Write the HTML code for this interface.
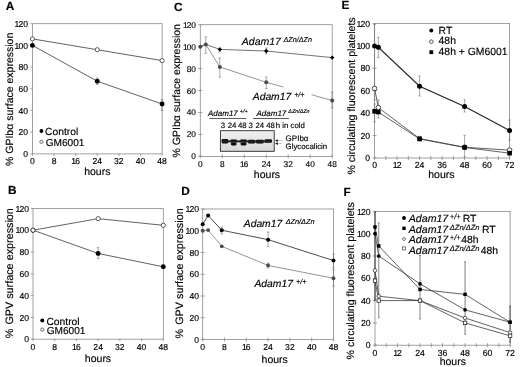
<!DOCTYPE html>
<html><head><meta charset="utf-8"><title>Figure</title>
<style>html,body{margin:0;padding:0;background:#fff;}svg{display:block;will-change:transform;}text{stroke:#000;stroke-width:0.15px;}</style></head><body>
<svg width="520" height="367" viewBox="0 0 520 367" font-family="Liberation Sans, Arial, sans-serif" text-rendering="geometricPrecision">
<rect width="520" height="367" fill="#fff"/>
<defs><filter id="bl" x="-20%" y="-50%" width="140%" height="200%"><feGaussianBlur stdDeviation="0.7"/></filter></defs>
<rect x="32.40" y="23.70" width="129.70" height="130.20" fill="none" stroke="#8a8a8a" stroke-width="0.8"/>
<line x1="30.30" y1="153.90" x2="32.80" y2="153.90" stroke="#8a8a8a" stroke-width="0.8" />
<text x="28.00" y="157.00" font-size="8.6" text-anchor="end" font-weight="normal" font-style="normal" fill="#000" >0</text>
<line x1="30.30" y1="132.20" x2="32.80" y2="132.20" stroke="#8a8a8a" stroke-width="0.8" />
<text x="28.00" y="135.30" font-size="8.6" text-anchor="end" font-weight="normal" font-style="normal" fill="#000" >20</text>
<line x1="30.30" y1="110.50" x2="32.80" y2="110.50" stroke="#8a8a8a" stroke-width="0.8" />
<text x="28.00" y="113.60" font-size="8.6" text-anchor="end" font-weight="normal" font-style="normal" fill="#000" >40</text>
<line x1="30.30" y1="88.80" x2="32.80" y2="88.80" stroke="#8a8a8a" stroke-width="0.8" />
<text x="28.00" y="91.90" font-size="8.6" text-anchor="end" font-weight="normal" font-style="normal" fill="#000" >60</text>
<line x1="30.30" y1="67.10" x2="32.80" y2="67.10" stroke="#8a8a8a" stroke-width="0.8" />
<text x="28.00" y="70.20" font-size="8.6" text-anchor="end" font-weight="normal" font-style="normal" fill="#000" >80</text>
<line x1="30.30" y1="45.40" x2="32.80" y2="45.40" stroke="#8a8a8a" stroke-width="0.8" />
<text x="28.00" y="48.50" font-size="8.6" text-anchor="end" font-weight="normal" font-style="normal" fill="#000" ><tspan letter-spacing="-0.9">1</tspan>00</text>
<line x1="30.30" y1="23.70" x2="32.80" y2="23.70" stroke="#8a8a8a" stroke-width="0.8" />
<text x="28.00" y="26.80" font-size="8.6" text-anchor="end" font-weight="normal" font-style="normal" fill="#000" ><tspan letter-spacing="-0.9">1</tspan>20</text>
<line x1="32.40" y1="153.50" x2="32.40" y2="155.90" stroke="#8a8a8a" stroke-width="0.8" />
<text x="32.40" y="164.20" font-size="8.6" text-anchor="middle" font-weight="normal" font-style="normal" fill="#000" >0</text>
<line x1="54.02" y1="153.50" x2="54.02" y2="155.90" stroke="#8a8a8a" stroke-width="0.8" />
<text x="54.02" y="164.20" font-size="8.6" text-anchor="middle" font-weight="normal" font-style="normal" fill="#000" >8</text>
<line x1="75.63" y1="153.50" x2="75.63" y2="155.90" stroke="#8a8a8a" stroke-width="0.8" />
<text x="75.63" y="164.20" font-size="8.6" text-anchor="middle" font-weight="normal" font-style="normal" fill="#000" ><tspan letter-spacing="-0.9">1</tspan>6</text>
<line x1="97.25" y1="153.50" x2="97.25" y2="155.90" stroke="#8a8a8a" stroke-width="0.8" />
<text x="97.25" y="164.20" font-size="8.6" text-anchor="middle" font-weight="normal" font-style="normal" fill="#000" >24</text>
<line x1="118.87" y1="153.50" x2="118.87" y2="155.90" stroke="#8a8a8a" stroke-width="0.8" />
<text x="118.87" y="164.20" font-size="8.6" text-anchor="middle" font-weight="normal" font-style="normal" fill="#000" >32</text>
<line x1="140.48" y1="153.50" x2="140.48" y2="155.90" stroke="#8a8a8a" stroke-width="0.8" />
<text x="140.48" y="164.20" font-size="8.6" text-anchor="middle" font-weight="normal" font-style="normal" fill="#000" >40</text>
<line x1="162.10" y1="153.50" x2="162.10" y2="155.90" stroke="#8a8a8a" stroke-width="0.8" />
<text x="162.10" y="164.20" font-size="8.6" text-anchor="middle" font-weight="normal" font-style="normal" fill="#000" >48</text>
<text x="5.80" y="9.90" font-size="11.8" text-anchor="start" font-weight="bold" font-style="normal" fill="#000" >A</text>
<text transform="translate(13.00,166.00) rotate(-90)" font-size="10.5" fill="#000">% GPIbα surface expression</text>
<text x="97.30" y="175.20" font-size="10.5" text-anchor="middle" font-weight="normal" font-style="normal" fill="#000" >hours</text>
<line x1="97.25" y1="77.95" x2="97.25" y2="84.46" stroke="#6e6e6e" stroke-width="0.6" />
<line x1="95.95" y1="77.95" x2="98.55" y2="77.95" stroke="#6e6e6e" stroke-width="0.54" />
<line x1="95.95" y1="84.46" x2="98.55" y2="84.46" stroke="#6e6e6e" stroke-width="0.54" />
<line x1="162.10" y1="99.65" x2="162.10" y2="110.50" stroke="#6e6e6e" stroke-width="0.6" />
<line x1="160.80" y1="99.65" x2="163.40" y2="99.65" stroke="#6e6e6e" stroke-width="0.54" />
<line x1="160.80" y1="110.50" x2="163.40" y2="110.50" stroke="#6e6e6e" stroke-width="0.54" />
<polyline fill="none" stroke="#3a3a3a" stroke-width="0.8" points="32.40,45.40 97.25,81.20 162.10,103.99"/>
<polyline fill="none" stroke="#3a3a3a" stroke-width="0.8" points="32.40,38.89 97.25,49.74 162.10,60.59"/>
<circle cx="32.40" cy="45.40" r="2.45" fill="#000" stroke="none" stroke-width="0.7"/>
<circle cx="97.25" cy="81.20" r="2.45" fill="#000" stroke="none" stroke-width="0.7"/>
<circle cx="162.10" cy="103.99" r="2.45" fill="#000" stroke="none" stroke-width="0.7"/>
<circle cx="32.40" cy="38.89" r="2.1" fill="#fff" stroke="#333" stroke-width="0.8"/>
<circle cx="97.25" cy="49.74" r="2.1" fill="#fff" stroke="#333" stroke-width="0.8"/>
<circle cx="162.10" cy="60.59" r="2.1" fill="#fff" stroke="#333" stroke-width="0.8"/>
<circle cx="41.40" cy="131.00" r="1.9" fill="#000" stroke="none" stroke-width="0.7"/>
<text x="45.00" y="134.50" font-size="10.3" text-anchor="start" font-weight="normal" font-style="normal" fill="#000" >Control</text>
<circle cx="41.40" cy="141.80" r="1.6" fill="#fff" stroke="#444" stroke-width="0.8"/>
<text x="45.70" y="145.60" font-size="10.1" text-anchor="start" font-weight="normal" font-style="normal" fill="#000" >GM6001</text>
<rect x="33.00" y="208.40" width="130.30" height="130.80" fill="none" stroke="#8a8a8a" stroke-width="0.8"/>
<line x1="30.90" y1="339.20" x2="33.40" y2="339.20" stroke="#8a8a8a" stroke-width="0.8" />
<text x="29.00" y="342.30" font-size="8.6" text-anchor="end" font-weight="normal" font-style="normal" fill="#000" >0</text>
<line x1="30.90" y1="317.40" x2="33.40" y2="317.40" stroke="#8a8a8a" stroke-width="0.8" />
<text x="29.00" y="320.50" font-size="8.6" text-anchor="end" font-weight="normal" font-style="normal" fill="#000" >20</text>
<line x1="30.90" y1="295.60" x2="33.40" y2="295.60" stroke="#8a8a8a" stroke-width="0.8" />
<text x="29.00" y="298.70" font-size="8.6" text-anchor="end" font-weight="normal" font-style="normal" fill="#000" >40</text>
<line x1="30.90" y1="273.80" x2="33.40" y2="273.80" stroke="#8a8a8a" stroke-width="0.8" />
<text x="29.00" y="276.90" font-size="8.6" text-anchor="end" font-weight="normal" font-style="normal" fill="#000" >60</text>
<line x1="30.90" y1="252.00" x2="33.40" y2="252.00" stroke="#8a8a8a" stroke-width="0.8" />
<text x="29.00" y="255.10" font-size="8.6" text-anchor="end" font-weight="normal" font-style="normal" fill="#000" >80</text>
<line x1="30.90" y1="230.20" x2="33.40" y2="230.20" stroke="#8a8a8a" stroke-width="0.8" />
<text x="29.00" y="233.30" font-size="8.6" text-anchor="end" font-weight="normal" font-style="normal" fill="#000" ><tspan letter-spacing="-0.9">1</tspan>00</text>
<line x1="30.90" y1="208.40" x2="33.40" y2="208.40" stroke="#8a8a8a" stroke-width="0.8" />
<text x="29.00" y="211.50" font-size="8.6" text-anchor="end" font-weight="normal" font-style="normal" fill="#000" ><tspan letter-spacing="-0.9">1</tspan>20</text>
<line x1="33.00" y1="338.80" x2="33.00" y2="341.20" stroke="#8a8a8a" stroke-width="0.8" />
<text x="33.00" y="350.00" font-size="8.6" text-anchor="middle" font-weight="normal" font-style="normal" fill="#000" >0</text>
<line x1="54.72" y1="338.80" x2="54.72" y2="341.20" stroke="#8a8a8a" stroke-width="0.8" />
<text x="54.72" y="350.00" font-size="8.6" text-anchor="middle" font-weight="normal" font-style="normal" fill="#000" >8</text>
<line x1="76.43" y1="338.80" x2="76.43" y2="341.20" stroke="#8a8a8a" stroke-width="0.8" />
<text x="76.43" y="350.00" font-size="8.6" text-anchor="middle" font-weight="normal" font-style="normal" fill="#000" ><tspan letter-spacing="-0.9">1</tspan>6</text>
<line x1="98.15" y1="338.80" x2="98.15" y2="341.20" stroke="#8a8a8a" stroke-width="0.8" />
<text x="98.15" y="350.00" font-size="8.6" text-anchor="middle" font-weight="normal" font-style="normal" fill="#000" >24</text>
<line x1="119.87" y1="338.80" x2="119.87" y2="341.20" stroke="#8a8a8a" stroke-width="0.8" />
<text x="119.87" y="350.00" font-size="8.6" text-anchor="middle" font-weight="normal" font-style="normal" fill="#000" >32</text>
<line x1="141.58" y1="338.80" x2="141.58" y2="341.20" stroke="#8a8a8a" stroke-width="0.8" />
<text x="141.58" y="350.00" font-size="8.6" text-anchor="middle" font-weight="normal" font-style="normal" fill="#000" >40</text>
<line x1="163.30" y1="338.80" x2="163.30" y2="341.20" stroke="#8a8a8a" stroke-width="0.8" />
<text x="163.30" y="350.00" font-size="8.6" text-anchor="middle" font-weight="normal" font-style="normal" fill="#000" >48</text>
<text x="7.90" y="194.30" font-size="11.8" text-anchor="start" font-weight="bold" font-style="normal" fill="#000" >B</text>
<text transform="translate(13.30,338.20) rotate(-90)" font-size="10.8" fill="#000">% <tspan dx="1.0">GPV</tspan> surface expression</text>
<text x="98.00" y="362.00" font-size="10.5" text-anchor="middle" font-weight="normal" font-style="normal" fill="#000" >hours</text>
<line x1="98.15" y1="247.64" x2="98.15" y2="258.54" stroke="#6e6e6e" stroke-width="0.6" />
<line x1="96.85" y1="247.64" x2="99.45" y2="247.64" stroke="#6e6e6e" stroke-width="0.54" />
<line x1="96.85" y1="258.54" x2="99.45" y2="258.54" stroke="#6e6e6e" stroke-width="0.54" />
<polyline fill="none" stroke="#3a3a3a" stroke-width="0.8" points="33.00,230.20 98.15,253.42 163.30,266.82"/>
<polyline fill="none" stroke="#3a3a3a" stroke-width="0.8" points="33.00,230.20 98.15,218.65 163.30,225.30"/>
<circle cx="33.00" cy="230.20" r="2.45" fill="#000" stroke="none" stroke-width="0.7"/>
<circle cx="98.15" cy="253.42" r="2.45" fill="#000" stroke="none" stroke-width="0.7"/>
<circle cx="163.30" cy="266.82" r="2.45" fill="#000" stroke="none" stroke-width="0.7"/>
<circle cx="33.00" cy="230.20" r="2.1" fill="#fff" stroke="#333" stroke-width="0.8"/>
<circle cx="98.15" cy="218.65" r="2.1" fill="#fff" stroke="#333" stroke-width="0.8"/>
<circle cx="163.30" cy="225.30" r="2.1" fill="#fff" stroke="#333" stroke-width="0.8"/>
<circle cx="42.30" cy="320.60" r="2.0" fill="#000" stroke="none" stroke-width="0.7"/>
<text x="46.40" y="324.50" font-size="10.3" text-anchor="start" font-weight="normal" font-style="normal" fill="#000" >Control</text>
<circle cx="42.30" cy="329.60" r="1.6" fill="#fff" stroke="#444" stroke-width="0.8"/>
<text x="46.70" y="333.80" font-size="10.1" text-anchor="start" font-weight="normal" font-style="normal" fill="#000" >GM6001</text>
<rect x="200.30" y="24.70" width="131.90" height="131.70" fill="none" stroke="#8a8a8a" stroke-width="0.8"/>
<line x1="198.20" y1="156.40" x2="202.30" y2="156.40" stroke="#8a8a8a" stroke-width="0.8" />
<text x="195.90" y="159.39" font-size="8.3" text-anchor="end" font-weight="normal" font-style="normal" fill="#000" >0</text>
<line x1="198.20" y1="134.45" x2="202.30" y2="134.45" stroke="#8a8a8a" stroke-width="0.8" />
<text x="195.90" y="137.44" font-size="8.3" text-anchor="end" font-weight="normal" font-style="normal" fill="#000" >20</text>
<line x1="198.20" y1="112.50" x2="202.30" y2="112.50" stroke="#8a8a8a" stroke-width="0.8" />
<text x="195.90" y="115.49" font-size="8.3" text-anchor="end" font-weight="normal" font-style="normal" fill="#000" >40</text>
<line x1="198.20" y1="90.55" x2="202.30" y2="90.55" stroke="#8a8a8a" stroke-width="0.8" />
<text x="195.90" y="93.54" font-size="8.3" text-anchor="end" font-weight="normal" font-style="normal" fill="#000" >60</text>
<line x1="198.20" y1="68.60" x2="202.30" y2="68.60" stroke="#8a8a8a" stroke-width="0.8" />
<text x="195.90" y="71.59" font-size="8.3" text-anchor="end" font-weight="normal" font-style="normal" fill="#000" >80</text>
<line x1="198.20" y1="46.65" x2="202.30" y2="46.65" stroke="#8a8a8a" stroke-width="0.8" />
<text x="195.90" y="49.64" font-size="8.3" text-anchor="end" font-weight="normal" font-style="normal" fill="#000" ><tspan letter-spacing="-0.9">1</tspan>00</text>
<line x1="198.20" y1="24.70" x2="202.30" y2="24.70" stroke="#8a8a8a" stroke-width="0.8" />
<text x="195.90" y="27.69" font-size="8.3" text-anchor="end" font-weight="normal" font-style="normal" fill="#000" ><tspan letter-spacing="-0.9">1</tspan>20</text>
<line x1="200.30" y1="154.40" x2="200.30" y2="158.40" stroke="#8a8a8a" stroke-width="0.8" />
<text x="200.30" y="166.50" font-size="8.3" text-anchor="middle" font-weight="normal" font-style="normal" fill="#000" >0</text>
<line x1="222.28" y1="154.40" x2="222.28" y2="158.40" stroke="#8a8a8a" stroke-width="0.8" />
<text x="222.28" y="166.50" font-size="8.3" text-anchor="middle" font-weight="normal" font-style="normal" fill="#000" >8</text>
<line x1="244.27" y1="154.40" x2="244.27" y2="158.40" stroke="#8a8a8a" stroke-width="0.8" />
<text x="244.27" y="166.50" font-size="8.3" text-anchor="middle" font-weight="normal" font-style="normal" fill="#000" ><tspan letter-spacing="-0.9">1</tspan>6</text>
<line x1="266.25" y1="154.40" x2="266.25" y2="158.40" stroke="#8a8a8a" stroke-width="0.8" />
<text x="266.25" y="166.50" font-size="8.3" text-anchor="middle" font-weight="normal" font-style="normal" fill="#000" >24</text>
<line x1="288.23" y1="154.40" x2="288.23" y2="158.40" stroke="#8a8a8a" stroke-width="0.8" />
<text x="288.23" y="166.50" font-size="8.3" text-anchor="middle" font-weight="normal" font-style="normal" fill="#000" >32</text>
<line x1="310.22" y1="154.40" x2="310.22" y2="158.40" stroke="#8a8a8a" stroke-width="0.8" />
<text x="310.22" y="166.50" font-size="8.3" text-anchor="middle" font-weight="normal" font-style="normal" fill="#000" >40</text>
<line x1="332.20" y1="154.40" x2="332.20" y2="158.40" stroke="#8a8a8a" stroke-width="0.8" />
<text x="332.20" y="166.50" font-size="8.3" text-anchor="middle" font-weight="normal" font-style="normal" fill="#000" >48</text>
<text x="174.00" y="10.80" font-size="11.8" text-anchor="start" font-weight="bold" font-style="normal" fill="#000" >C</text>
<text transform="translate(179.80,157.40) rotate(-90)" font-size="10.5" fill="#000">% GPIbα surface expression</text>
<text x="267.00" y="177.50" font-size="10.5" text-anchor="middle" font-weight="normal" font-style="normal" fill="#000" >hours</text>
<line x1="205.80" y1="36.80" x2="205.80" y2="53.40" stroke="#6e6e6e" stroke-width="0.6" />
<line x1="204.50" y1="36.80" x2="207.10" y2="36.80" stroke="#6e6e6e" stroke-width="0.54" />
<line x1="204.50" y1="53.40" x2="207.10" y2="53.40" stroke="#6e6e6e" stroke-width="0.54" />
<line x1="219.81" y1="58.00" x2="219.81" y2="77.20" stroke="#6e6e6e" stroke-width="0.6" />
<line x1="218.51" y1="58.00" x2="221.11" y2="58.00" stroke="#6e6e6e" stroke-width="0.54" />
<line x1="218.51" y1="77.20" x2="221.11" y2="77.20" stroke="#6e6e6e" stroke-width="0.54" />
<line x1="266.25" y1="77.00" x2="266.25" y2="88.50" stroke="#6e6e6e" stroke-width="0.6" />
<line x1="264.95" y1="77.00" x2="267.55" y2="77.00" stroke="#6e6e6e" stroke-width="0.54" />
<line x1="264.95" y1="88.50" x2="267.55" y2="88.50" stroke="#6e6e6e" stroke-width="0.54" />
<line x1="266.25" y1="48.00" x2="266.25" y2="54.00" stroke="#6e6e6e" stroke-width="0.6" />
<line x1="264.95" y1="48.00" x2="267.55" y2="48.00" stroke="#6e6e6e" stroke-width="0.54" />
<line x1="264.95" y1="54.00" x2="267.55" y2="54.00" stroke="#6e6e6e" stroke-width="0.54" />
<line x1="332.20" y1="92.00" x2="332.20" y2="108.00" stroke="#6e6e6e" stroke-width="0.6" />
<line x1="330.90" y1="92.00" x2="333.50" y2="92.00" stroke="#6e6e6e" stroke-width="0.54" />
<line x1="330.90" y1="108.00" x2="333.50" y2="108.00" stroke="#6e6e6e" stroke-width="0.54" />
<line x1="219.81" y1="48.00" x2="219.81" y2="52.00" stroke="#6e6e6e" stroke-width="0.6" />
<line x1="218.51" y1="48.00" x2="221.11" y2="48.00" stroke="#6e6e6e" stroke-width="0.54" />
<line x1="218.51" y1="52.00" x2="221.11" y2="52.00" stroke="#6e6e6e" stroke-width="0.54" />
<polyline fill="none" stroke="#7a7a7a" stroke-width="0.8" points="200.30,46.65 205.80,44.45 219.81,66.95 266.25,82.32"/>
<polyline fill="none" stroke="#7a7a7a" stroke-width="0.8" points="266.25,82.32 283.50,87.06"/>
<polyline fill="none" stroke="#7a7a7a" stroke-width="0.8" points="311.70,94.80 332.20,100.43"/>
<polyline fill="none" stroke="#444" stroke-width="0.75" points="200.30,46.65 205.80,44.45 219.81,49.39 266.25,51.04 332.20,57.62"/>
<circle cx="200.30" cy="46.65" r="2.0" fill="#4a4a4a" stroke="none" stroke-width="0.7"/>
<circle cx="205.80" cy="44.45" r="2.0" fill="#4a4a4a" stroke="none" stroke-width="0.7"/>
<circle cx="219.81" cy="66.95" r="2.0" fill="#4a4a4a" stroke="none" stroke-width="0.7"/>
<circle cx="266.25" cy="82.32" r="2.0" fill="#4a4a4a" stroke="none" stroke-width="0.7"/>
<circle cx="332.20" cy="100.43" r="2.0" fill="#4a4a4a" stroke="none" stroke-width="0.7"/>
<polygon points="219.81,47.19 222.01,49.39 219.81,51.59 217.61,49.39" fill="#000"/>
<polygon points="266.25,48.84 268.45,51.04 266.25,53.24 264.05,51.04" fill="#000"/>
<polygon points="332.20,55.42 334.40,57.62 332.20,59.82 330.00,57.62" fill="#000"/>
<text x="241.8" y="44.6" font-size="10.5" font-style="italic" fill="#000">Adam17<tspan dx="2.6" dy="-2.2" font-size="7.2">ΔZn/ΔZn</tspan></text>
<text x="252.8" y="100.3" font-size="10.3" font-style="italic" fill="#000">Adam17<tspan dx="3" dy="-3" font-size="7.2">+/+</tspan></text>
<text x="208" y="115.8" font-size="8" font-style="italic" fill="#000">Adam17<tspan dx="2" dy="-2.4" font-size="5.4">+/+</tspan></text>
<text x="256.5" y="115.8" font-size="8" font-style="italic" fill="#000">Adam17<tspan dx="2" dy="-2.4" font-size="5.4">ΔZn/ΔZn</tspan></text>
<line x1="209.40" y1="118.50" x2="246.30" y2="118.50" stroke="#333" stroke-width="0.8" />
<line x1="253.00" y1="118.50" x2="288.90" y2="118.50" stroke="#333" stroke-width="0.8" />
<text x="222.90" y="127.90" font-size="7.8" text-anchor="middle" font-weight="normal" font-style="normal" fill="#000" >3</text>
<text x="232.00" y="127.90" font-size="7.8" text-anchor="middle" font-weight="normal" font-style="normal" fill="#000" >24</text>
<text x="242.30" y="127.90" font-size="7.8" text-anchor="middle" font-weight="normal" font-style="normal" fill="#000" >48</text>
<text x="250.60" y="127.90" font-size="7.8" text-anchor="middle" font-weight="normal" font-style="normal" fill="#000" >3</text>
<text x="259.80" y="127.90" font-size="7.8" text-anchor="middle" font-weight="normal" font-style="normal" fill="#000" >24</text>
<text x="270.60" y="127.90" font-size="7.8" text-anchor="middle" font-weight="normal" font-style="normal" fill="#000" >48</text>
<text x="275.80" y="127.90" font-size="7.8" text-anchor="start" font-weight="normal" font-style="normal" fill="#000" >h in cold</text>
<defs><linearGradient id="bg" x1="0" y1="0" x2="0" y2="1"><stop offset="0" stop-color="#f0f0f0"/><stop offset="1" stop-color="#d9d9d9"/></linearGradient></defs>
<rect x="220.4" y="130.7" width="53.8" height="20.6" fill="url(#bg)" stroke="#2a2a2a" stroke-width="0.9"/>
<g filter="url(#bl)">
<rect x="221.6" y="138.9" width="6.7" height="4.5" rx="1.3" fill="#0a0a0a"/>
<rect x="230.3" y="139.6" width="6.7" height="2.8" rx="1.3" fill="#0a0a0a"/>
<rect x="230.8" y="142.6" width="5.8" height="2.8" rx="1.3" fill="#0a0a0a"/>
<rect x="240.0" y="139.6" width="7.0" height="2.8" rx="1.3" fill="#0a0a0a"/>
<rect x="240.5" y="142.6" width="6.1" height="2.8" rx="1.3" fill="#0a0a0a"/>
<rect x="248.0" y="139.8" width="7.2" height="3.8" rx="1.3" fill="#0a0a0a"/>
<rect x="255.8" y="139.7" width="8.1" height="3.7" rx="1.3" fill="#0a0a0a"/>
<rect x="264.6" y="139.3" width="7.4" height="3.5" rx="1.3" fill="#0a0a0a"/>
<rect x="222" y="140.4" width="49.5" height="2.0" fill="#222"/>
</g>
<polygon points="275.2,140.6 277.8,139.29999999999998 277.8,141.9" fill="#000"/>
<line x1="277.60" y1="140.60" x2="282.00" y2="140.60" stroke="#999" stroke-width="0.6" />
<polygon points="275.2,143.6 277.8,142.29999999999998 277.8,144.9" fill="#000"/>
<line x1="277.60" y1="143.60" x2="282.00" y2="143.60" stroke="#999" stroke-width="0.6" />
<text x="285.60" y="140.80" font-size="8.0" text-anchor="start" font-weight="normal" font-style="normal" fill="#000" >GPIbα</text>
<text x="285.60" y="149.30" font-size="7.8" text-anchor="start" font-weight="normal" font-style="normal" fill="#000" >Glycocalicin</text>
<rect x="202.70" y="209.00" width="130.80" height="130.50" fill="none" stroke="#8a8a8a" stroke-width="0.8"/>
<line x1="200.60" y1="339.50" x2="204.70" y2="339.50" stroke="#8a8a8a" stroke-width="0.8" />
<text x="199.00" y="342.60" font-size="8.6" text-anchor="end" font-weight="normal" font-style="normal" fill="#000" >0</text>
<line x1="200.60" y1="317.75" x2="204.70" y2="317.75" stroke="#8a8a8a" stroke-width="0.8" />
<text x="199.00" y="320.85" font-size="8.6" text-anchor="end" font-weight="normal" font-style="normal" fill="#000" >20</text>
<line x1="200.60" y1="296.00" x2="204.70" y2="296.00" stroke="#8a8a8a" stroke-width="0.8" />
<text x="199.00" y="299.10" font-size="8.6" text-anchor="end" font-weight="normal" font-style="normal" fill="#000" >40</text>
<line x1="200.60" y1="274.25" x2="204.70" y2="274.25" stroke="#8a8a8a" stroke-width="0.8" />
<text x="199.00" y="277.35" font-size="8.6" text-anchor="end" font-weight="normal" font-style="normal" fill="#000" >60</text>
<line x1="200.60" y1="252.50" x2="204.70" y2="252.50" stroke="#8a8a8a" stroke-width="0.8" />
<text x="199.00" y="255.60" font-size="8.6" text-anchor="end" font-weight="normal" font-style="normal" fill="#000" >80</text>
<line x1="200.60" y1="230.75" x2="204.70" y2="230.75" stroke="#8a8a8a" stroke-width="0.8" />
<text x="199.00" y="233.85" font-size="8.6" text-anchor="end" font-weight="normal" font-style="normal" fill="#000" ><tspan letter-spacing="-0.9">1</tspan>00</text>
<line x1="200.60" y1="209.00" x2="204.70" y2="209.00" stroke="#8a8a8a" stroke-width="0.8" />
<text x="199.00" y="212.10" font-size="8.6" text-anchor="end" font-weight="normal" font-style="normal" fill="#000" ><tspan letter-spacing="-0.9">1</tspan>20</text>
<line x1="202.70" y1="337.50" x2="202.70" y2="341.50" stroke="#8a8a8a" stroke-width="0.8" />
<text x="202.70" y="349.60" font-size="8.6" text-anchor="middle" font-weight="normal" font-style="normal" fill="#000" >0</text>
<line x1="224.50" y1="337.50" x2="224.50" y2="341.50" stroke="#8a8a8a" stroke-width="0.8" />
<text x="224.50" y="349.60" font-size="8.6" text-anchor="middle" font-weight="normal" font-style="normal" fill="#000" >8</text>
<line x1="246.30" y1="337.50" x2="246.30" y2="341.50" stroke="#8a8a8a" stroke-width="0.8" />
<text x="246.30" y="349.60" font-size="8.6" text-anchor="middle" font-weight="normal" font-style="normal" fill="#000" ><tspan letter-spacing="-0.9">1</tspan>6</text>
<line x1="268.10" y1="337.50" x2="268.10" y2="341.50" stroke="#8a8a8a" stroke-width="0.8" />
<text x="268.10" y="349.60" font-size="8.6" text-anchor="middle" font-weight="normal" font-style="normal" fill="#000" >24</text>
<line x1="289.90" y1="337.50" x2="289.90" y2="341.50" stroke="#8a8a8a" stroke-width="0.8" />
<text x="289.90" y="349.60" font-size="8.6" text-anchor="middle" font-weight="normal" font-style="normal" fill="#000" >32</text>
<line x1="311.70" y1="337.50" x2="311.70" y2="341.50" stroke="#8a8a8a" stroke-width="0.8" />
<text x="311.70" y="349.60" font-size="8.6" text-anchor="middle" font-weight="normal" font-style="normal" fill="#000" >40</text>
<line x1="333.50" y1="337.50" x2="333.50" y2="341.50" stroke="#8a8a8a" stroke-width="0.8" />
<text x="333.50" y="349.60" font-size="8.6" text-anchor="middle" font-weight="normal" font-style="normal" fill="#000" >48</text>
<text x="181.30" y="195.00" font-size="11.8" text-anchor="start" font-weight="bold" font-style="normal" fill="#000" >D</text>
<text transform="translate(182.60,338.40) rotate(-90)" font-size="10.8" fill="#000">% <tspan dx="1.0">GPV</tspan> surface expression</text>
<text x="274.70" y="363.00" font-size="10.5" text-anchor="middle" font-weight="normal" font-style="normal" fill="#000" >hours</text>
<line x1="268.10" y1="232.00" x2="268.10" y2="246.70" stroke="#6e6e6e" stroke-width="0.6" />
<line x1="266.80" y1="232.00" x2="269.40" y2="232.00" stroke="#6e6e6e" stroke-width="0.54" />
<line x1="266.80" y1="246.70" x2="269.40" y2="246.70" stroke="#6e6e6e" stroke-width="0.54" />
<line x1="333.50" y1="254.00" x2="333.50" y2="268.00" stroke="#6e6e6e" stroke-width="0.6" />
<line x1="332.20" y1="254.00" x2="334.80" y2="254.00" stroke="#6e6e6e" stroke-width="0.54" />
<line x1="332.20" y1="268.00" x2="334.80" y2="268.00" stroke="#6e6e6e" stroke-width="0.54" />
<line x1="333.50" y1="270.00" x2="333.50" y2="286.00" stroke="#6e6e6e" stroke-width="0.6" />
<line x1="332.20" y1="270.00" x2="334.80" y2="270.00" stroke="#6e6e6e" stroke-width="0.54" />
<line x1="332.20" y1="286.00" x2="334.80" y2="286.00" stroke="#6e6e6e" stroke-width="0.54" />
<line x1="221.77" y1="227.00" x2="221.77" y2="234.00" stroke="#6e6e6e" stroke-width="0.6" />
<line x1="220.47" y1="227.00" x2="223.07" y2="227.00" stroke="#6e6e6e" stroke-width="0.54" />
<line x1="220.47" y1="234.00" x2="223.07" y2="234.00" stroke="#6e6e6e" stroke-width="0.54" />
<line x1="268.10" y1="263.00" x2="268.10" y2="268.00" stroke="#6e6e6e" stroke-width="0.6" />
<line x1="266.80" y1="263.00" x2="269.40" y2="263.00" stroke="#6e6e6e" stroke-width="0.54" />
<line x1="266.80" y1="268.00" x2="269.40" y2="268.00" stroke="#6e6e6e" stroke-width="0.54" />
<polyline fill="none" stroke="#7a7a7a" stroke-width="0.8" points="202.70,230.75 208.15,230.10 221.77,246.30 268.10,265.44 333.50,278.27"/>
<polyline fill="none" stroke="#3a3a3a" stroke-width="0.9" points="202.70,224.22 208.15,215.53 221.77,230.21 268.10,239.67 333.50,260.55"/>
<circle cx="202.70" cy="230.75" r="1.9" fill="#4a4a4a" stroke="none" stroke-width="0.7"/>
<circle cx="208.15" cy="230.10" r="1.9" fill="#4a4a4a" stroke="none" stroke-width="0.7"/>
<circle cx="221.77" cy="246.30" r="1.9" fill="#4a4a4a" stroke="none" stroke-width="0.7"/>
<circle cx="268.10" cy="265.44" r="1.9" fill="#4a4a4a" stroke="none" stroke-width="0.7"/>
<circle cx="333.50" cy="278.27" r="1.9" fill="#4a4a4a" stroke="none" stroke-width="0.7"/>
<circle cx="202.70" cy="224.22" r="2.0" fill="#000" stroke="none" stroke-width="0.7"/>
<circle cx="208.15" cy="215.53" r="2.0" fill="#000" stroke="none" stroke-width="0.7"/>
<circle cx="221.77" cy="230.21" r="2.0" fill="#000" stroke="none" stroke-width="0.7"/>
<circle cx="268.10" cy="239.67" r="2.0" fill="#000" stroke="none" stroke-width="0.7"/>
<circle cx="333.50" cy="260.55" r="2.0" fill="#000" stroke="none" stroke-width="0.7"/>
<text x="243.8" y="226.6" font-size="10.3" font-style="italic" fill="#000">Adam17<tspan dx="3.5" dy="-2.8" font-size="7.3">ΔZn/ΔZn</tspan></text>
<text x="254.5" y="286.7" font-size="10.3" font-style="italic" fill="#000">Adam17<tspan dx="3.2" dy="-3" font-size="7.2">+/+</tspan></text>
<rect x="374.60" y="23.50" width="135.00" height="134.50" fill="none" stroke="#8a8a8a" stroke-width="0.8"/>
<line x1="372.50" y1="158.00" x2="376.60" y2="158.00" stroke="#8a8a8a" stroke-width="0.8" />
<text x="370.20" y="161.13" font-size="8.7" text-anchor="end" font-weight="normal" font-style="normal" fill="#000" >0</text>
<line x1="372.50" y1="135.58" x2="376.60" y2="135.58" stroke="#8a8a8a" stroke-width="0.8" />
<text x="370.20" y="138.72" font-size="8.7" text-anchor="end" font-weight="normal" font-style="normal" fill="#000" >20</text>
<line x1="372.50" y1="113.17" x2="376.60" y2="113.17" stroke="#8a8a8a" stroke-width="0.8" />
<text x="370.20" y="116.30" font-size="8.7" text-anchor="end" font-weight="normal" font-style="normal" fill="#000" >40</text>
<line x1="372.50" y1="90.75" x2="376.60" y2="90.75" stroke="#8a8a8a" stroke-width="0.8" />
<text x="370.20" y="93.88" font-size="8.7" text-anchor="end" font-weight="normal" font-style="normal" fill="#000" >60</text>
<line x1="372.50" y1="68.33" x2="376.60" y2="68.33" stroke="#8a8a8a" stroke-width="0.8" />
<text x="370.20" y="71.47" font-size="8.7" text-anchor="end" font-weight="normal" font-style="normal" fill="#000" >80</text>
<line x1="372.50" y1="45.92" x2="376.60" y2="45.92" stroke="#8a8a8a" stroke-width="0.8" />
<text x="370.20" y="49.05" font-size="8.7" text-anchor="end" font-weight="normal" font-style="normal" fill="#000" ><tspan letter-spacing="-0.9">1</tspan>00</text>
<line x1="372.50" y1="23.50" x2="376.60" y2="23.50" stroke="#8a8a8a" stroke-width="0.8" />
<text x="370.20" y="26.63" font-size="8.7" text-anchor="end" font-weight="normal" font-style="normal" fill="#000" ><tspan letter-spacing="-0.9">1</tspan>20</text>
<line x1="374.60" y1="156.00" x2="374.60" y2="160.00" stroke="#8a8a8a" stroke-width="0.8" />
<text x="374.60" y="168.10" font-size="8.7" text-anchor="middle" font-weight="normal" font-style="normal" fill="#000" >0</text>
<line x1="397.10" y1="156.00" x2="397.10" y2="160.00" stroke="#8a8a8a" stroke-width="0.8" />
<text x="397.10" y="168.10" font-size="8.7" text-anchor="middle" font-weight="normal" font-style="normal" fill="#000" ><tspan letter-spacing="-0.9">1</tspan>2</text>
<line x1="419.60" y1="156.00" x2="419.60" y2="160.00" stroke="#8a8a8a" stroke-width="0.8" />
<text x="419.60" y="168.10" font-size="8.7" text-anchor="middle" font-weight="normal" font-style="normal" fill="#000" >24</text>
<line x1="442.10" y1="156.00" x2="442.10" y2="160.00" stroke="#8a8a8a" stroke-width="0.8" />
<text x="442.10" y="168.10" font-size="8.7" text-anchor="middle" font-weight="normal" font-style="normal" fill="#000" >36</text>
<line x1="464.60" y1="156.00" x2="464.60" y2="160.00" stroke="#8a8a8a" stroke-width="0.8" />
<text x="464.60" y="168.10" font-size="8.7" text-anchor="middle" font-weight="normal" font-style="normal" fill="#000" >48</text>
<line x1="487.10" y1="156.00" x2="487.10" y2="160.00" stroke="#8a8a8a" stroke-width="0.8" />
<text x="487.10" y="168.10" font-size="8.7" text-anchor="middle" font-weight="normal" font-style="normal" fill="#000" >60</text>
<line x1="509.60" y1="156.00" x2="509.60" y2="160.00" stroke="#8a8a8a" stroke-width="0.8" />
<text x="509.60" y="168.10" font-size="8.7" text-anchor="middle" font-weight="normal" font-style="normal" fill="#000" >72</text>
<line x1="385.85" y1="156.00" x2="385.85" y2="160.00" stroke="#8a8a8a" stroke-width="0.8" />
<line x1="408.35" y1="156.00" x2="408.35" y2="160.00" stroke="#8a8a8a" stroke-width="0.8" />
<line x1="430.85" y1="156.00" x2="430.85" y2="160.00" stroke="#8a8a8a" stroke-width="0.8" />
<line x1="453.35" y1="156.00" x2="453.35" y2="160.00" stroke="#8a8a8a" stroke-width="0.8" />
<line x1="475.85" y1="156.00" x2="475.85" y2="160.00" stroke="#8a8a8a" stroke-width="0.8" />
<line x1="498.35" y1="156.00" x2="498.35" y2="160.00" stroke="#8a8a8a" stroke-width="0.8" />
<text x="341.60" y="9.10" font-size="11.8" text-anchor="start" font-weight="bold" font-style="normal" fill="#000" >E</text>
<text transform="translate(355.00,174.60) rotate(-90)" font-size="10.6" fill="#000">% circulating fluorescent platelets</text>
<text x="441.40" y="177.70" font-size="10.5" text-anchor="middle" font-weight="normal" font-style="normal" fill="#000" >hours</text>
<line x1="378.35" y1="37.30" x2="378.35" y2="57.60" stroke="#6e6e6e" stroke-width="0.6" />
<line x1="377.05" y1="37.30" x2="379.65" y2="37.30" stroke="#6e6e6e" stroke-width="0.54" />
<line x1="377.05" y1="57.60" x2="379.65" y2="57.60" stroke="#6e6e6e" stroke-width="0.54" />
<line x1="419.60" y1="76.00" x2="419.60" y2="96.00" stroke="#6e6e6e" stroke-width="0.6" />
<line x1="418.30" y1="76.00" x2="420.90" y2="76.00" stroke="#6e6e6e" stroke-width="0.54" />
<line x1="418.30" y1="96.00" x2="420.90" y2="96.00" stroke="#6e6e6e" stroke-width="0.54" />
<line x1="464.60" y1="99.80" x2="464.60" y2="112.00" stroke="#6e6e6e" stroke-width="0.6" />
<line x1="463.30" y1="99.80" x2="465.90" y2="99.80" stroke="#6e6e6e" stroke-width="0.54" />
<line x1="463.30" y1="112.00" x2="465.90" y2="112.00" stroke="#6e6e6e" stroke-width="0.54" />
<line x1="509.60" y1="120.00" x2="509.60" y2="140.00" stroke="#6e6e6e" stroke-width="0.6" />
<line x1="508.30" y1="120.00" x2="510.90" y2="120.00" stroke="#6e6e6e" stroke-width="0.54" />
<line x1="508.30" y1="140.00" x2="510.90" y2="140.00" stroke="#6e6e6e" stroke-width="0.54" />
<line x1="374.60" y1="24.50" x2="374.60" y2="100.00" stroke="#6e6e6e" stroke-width="0.6" />
<line x1="373.30" y1="24.50" x2="375.90" y2="24.50" stroke="#6e6e6e" stroke-width="0.54" />
<line x1="373.30" y1="100.00" x2="375.90" y2="100.00" stroke="#6e6e6e" stroke-width="0.54" />
<line x1="378.35" y1="100.00" x2="378.35" y2="118.00" stroke="#6e6e6e" stroke-width="0.6" />
<line x1="377.05" y1="100.00" x2="379.65" y2="100.00" stroke="#6e6e6e" stroke-width="0.54" />
<line x1="377.05" y1="118.00" x2="379.65" y2="118.00" stroke="#6e6e6e" stroke-width="0.54" />
<line x1="464.60" y1="135.30" x2="464.60" y2="157.00" stroke="#6e6e6e" stroke-width="0.6" />
<line x1="463.30" y1="135.30" x2="465.90" y2="135.30" stroke="#6e6e6e" stroke-width="0.54" />
<line x1="463.30" y1="157.00" x2="465.90" y2="157.00" stroke="#6e6e6e" stroke-width="0.54" />
<line x1="374.60" y1="104.00" x2="374.60" y2="122.00" stroke="#6e6e6e" stroke-width="0.6" />
<line x1="373.30" y1="104.00" x2="375.90" y2="104.00" stroke="#6e6e6e" stroke-width="0.54" />
<line x1="373.30" y1="122.00" x2="375.90" y2="122.00" stroke="#6e6e6e" stroke-width="0.54" />
<polyline fill="none" stroke="#222" stroke-width="1.1" points="374.60,45.92 378.35,47.26 419.60,86.27 464.60,106.44 509.60,130.54"/>
<polyline fill="none" stroke="#3a3a3a" stroke-width="0.8" points="374.60,88.51 378.35,107.56 419.60,138.61 464.60,147.24 509.60,150.15"/>
<polyline fill="none" stroke="#3a3a3a" stroke-width="0.8" points="374.60,111.26 378.35,112.05 419.60,138.95 464.60,147.46 509.60,153.18"/>
<circle cx="374.60" cy="88.51" r="2.3" fill="#fff" stroke="#222" stroke-width="0.8"/>
<circle cx="378.35" cy="107.56" r="2.3" fill="#fff" stroke="#222" stroke-width="0.8"/>
<circle cx="419.60" cy="138.61" r="2.3" fill="#fff" stroke="#222" stroke-width="0.8"/>
<circle cx="464.60" cy="147.24" r="2.3" fill="#fff" stroke="#222" stroke-width="0.8"/>
<circle cx="509.60" cy="150.15" r="2.3" fill="#fff" stroke="#222" stroke-width="0.8"/>
<rect x="372.30" y="108.96" width="4.6" height="4.6" fill="#000" stroke="none" stroke-width="0.7"/>
<rect x="376.05" y="109.75" width="4.6" height="4.6" fill="#000" stroke="none" stroke-width="0.7"/>
<rect x="417.30" y="136.65" width="4.6" height="4.6" fill="#000" stroke="none" stroke-width="0.7"/>
<rect x="462.30" y="145.16" width="4.6" height="4.6" fill="#000" stroke="none" stroke-width="0.7"/>
<rect x="507.30" y="150.88" width="4.6" height="4.6" fill="#000" stroke="none" stroke-width="0.7"/>
<circle cx="374.60" cy="45.92" r="2.5" fill="#000" stroke="none" stroke-width="0.7"/>
<circle cx="378.35" cy="47.26" r="2.5" fill="#000" stroke="none" stroke-width="0.7"/>
<circle cx="419.60" cy="86.27" r="2.5" fill="#000" stroke="none" stroke-width="0.7"/>
<circle cx="464.60" cy="106.44" r="2.5" fill="#000" stroke="none" stroke-width="0.7"/>
<circle cx="509.60" cy="130.54" r="2.5" fill="#000" stroke="none" stroke-width="0.7"/>
<circle cx="431.30" cy="30.60" r="2.0" fill="#000" stroke="none" stroke-width="0.7"/>
<text x="438.60" y="33.80" font-size="10.4" text-anchor="start" font-weight="normal" font-style="normal" fill="#000" >RT</text>
<circle cx="431.30" cy="41.70" r="1.8" fill="#fff" stroke="#333" stroke-width="0.8"/>
<text x="438.60" y="44.10" font-size="10.4" text-anchor="start" font-weight="normal" font-style="normal" fill="#000" >48h</text>
<rect x="429.40" y="50.30" width="3.8" height="3.8" fill="#000" stroke="none" stroke-width="0.7"/>
<text x="438.60" y="55.10" font-size="10.4" text-anchor="start" font-weight="normal" font-style="normal" fill="#000" >48h + GM6001</text>
<rect x="375.00" y="211.40" width="135.10" height="133.80" fill="none" stroke="#8a8a8a" stroke-width="0.8"/>
<line x1="372.90" y1="345.20" x2="377.00" y2="345.20" stroke="#8a8a8a" stroke-width="0.8" />
<text x="370.60" y="348.33" font-size="8.7" text-anchor="end" font-weight="normal" font-style="normal" fill="#000" >0</text>
<line x1="372.90" y1="322.90" x2="377.00" y2="322.90" stroke="#8a8a8a" stroke-width="0.8" />
<text x="370.60" y="326.03" font-size="8.7" text-anchor="end" font-weight="normal" font-style="normal" fill="#000" >20</text>
<line x1="372.90" y1="300.60" x2="377.00" y2="300.60" stroke="#8a8a8a" stroke-width="0.8" />
<text x="370.60" y="303.73" font-size="8.7" text-anchor="end" font-weight="normal" font-style="normal" fill="#000" >40</text>
<line x1="372.90" y1="278.30" x2="377.00" y2="278.30" stroke="#8a8a8a" stroke-width="0.8" />
<text x="370.60" y="281.43" font-size="8.7" text-anchor="end" font-weight="normal" font-style="normal" fill="#000" >60</text>
<line x1="372.90" y1="256.00" x2="377.00" y2="256.00" stroke="#8a8a8a" stroke-width="0.8" />
<text x="370.60" y="259.13" font-size="8.7" text-anchor="end" font-weight="normal" font-style="normal" fill="#000" >80</text>
<line x1="372.90" y1="233.70" x2="377.00" y2="233.70" stroke="#8a8a8a" stroke-width="0.8" />
<text x="370.60" y="236.83" font-size="8.7" text-anchor="end" font-weight="normal" font-style="normal" fill="#000" ><tspan letter-spacing="-0.9">1</tspan>00</text>
<line x1="372.90" y1="211.40" x2="377.00" y2="211.40" stroke="#8a8a8a" stroke-width="0.8" />
<text x="370.60" y="214.53" font-size="8.7" text-anchor="end" font-weight="normal" font-style="normal" fill="#000" ><tspan letter-spacing="-0.9">1</tspan>20</text>
<line x1="375.00" y1="343.20" x2="375.00" y2="347.20" stroke="#8a8a8a" stroke-width="0.8" />
<text x="375.00" y="356.20" font-size="8.7" text-anchor="middle" font-weight="normal" font-style="normal" fill="#000" >0</text>
<line x1="397.52" y1="343.20" x2="397.52" y2="347.20" stroke="#8a8a8a" stroke-width="0.8" />
<text x="397.52" y="356.20" font-size="8.7" text-anchor="middle" font-weight="normal" font-style="normal" fill="#000" ><tspan letter-spacing="-0.9">1</tspan>2</text>
<line x1="420.03" y1="343.20" x2="420.03" y2="347.20" stroke="#8a8a8a" stroke-width="0.8" />
<text x="420.03" y="356.20" font-size="8.7" text-anchor="middle" font-weight="normal" font-style="normal" fill="#000" >24</text>
<line x1="442.55" y1="343.20" x2="442.55" y2="347.20" stroke="#8a8a8a" stroke-width="0.8" />
<text x="442.55" y="356.20" font-size="8.7" text-anchor="middle" font-weight="normal" font-style="normal" fill="#000" >36</text>
<line x1="465.07" y1="343.20" x2="465.07" y2="347.20" stroke="#8a8a8a" stroke-width="0.8" />
<text x="465.07" y="356.20" font-size="8.7" text-anchor="middle" font-weight="normal" font-style="normal" fill="#000" >48</text>
<line x1="487.58" y1="343.20" x2="487.58" y2="347.20" stroke="#8a8a8a" stroke-width="0.8" />
<text x="487.58" y="356.20" font-size="8.7" text-anchor="middle" font-weight="normal" font-style="normal" fill="#000" >60</text>
<line x1="510.10" y1="343.20" x2="510.10" y2="347.20" stroke="#8a8a8a" stroke-width="0.8" />
<text x="510.10" y="356.20" font-size="8.7" text-anchor="middle" font-weight="normal" font-style="normal" fill="#000" >72</text>
<line x1="386.26" y1="343.20" x2="386.26" y2="347.20" stroke="#8a8a8a" stroke-width="0.8" />
<line x1="408.77" y1="343.20" x2="408.77" y2="347.20" stroke="#8a8a8a" stroke-width="0.8" />
<line x1="431.29" y1="343.20" x2="431.29" y2="347.20" stroke="#8a8a8a" stroke-width="0.8" />
<line x1="453.81" y1="343.20" x2="453.81" y2="347.20" stroke="#8a8a8a" stroke-width="0.8" />
<line x1="476.33" y1="343.20" x2="476.33" y2="347.20" stroke="#8a8a8a" stroke-width="0.8" />
<line x1="498.84" y1="343.20" x2="498.84" y2="347.20" stroke="#8a8a8a" stroke-width="0.8" />
<text x="343.50" y="196.40" font-size="11.8" text-anchor="start" font-weight="bold" font-style="normal" fill="#000" >F</text>
<text transform="translate(354.40,359.40) rotate(-90)" font-size="10.6" fill="#000">% circulating fluorescent platelets</text>
<text x="452.80" y="365.20" font-size="10.5" text-anchor="middle" font-weight="normal" font-style="normal" fill="#000" >hours</text>
<line x1="375.00" y1="212.00" x2="375.00" y2="300.00" stroke="#333" stroke-width="1.0" />
<line x1="374.10" y1="212.00" x2="375.90" y2="212.00" stroke="#333" stroke-width="0.9" />
<line x1="374.10" y1="300.00" x2="375.90" y2="300.00" stroke="#333" stroke-width="0.9" />
<line x1="378.75" y1="222.90" x2="378.75" y2="317.80" stroke="#5a5a5a" stroke-width="0.7" />
<line x1="377.85" y1="222.90" x2="379.65" y2="222.90" stroke="#5a5a5a" stroke-width="0.63" />
<line x1="377.85" y1="317.80" x2="379.65" y2="317.80" stroke="#5a5a5a" stroke-width="0.63" />
<line x1="420.03" y1="255.50" x2="420.03" y2="319.00" stroke="#505050" stroke-width="0.7" />
<line x1="419.13" y1="255.50" x2="420.93" y2="255.50" stroke="#505050" stroke-width="0.63" />
<line x1="419.13" y1="319.00" x2="420.93" y2="319.00" stroke="#505050" stroke-width="0.63" />
<line x1="465.07" y1="261.80" x2="465.07" y2="334.20" stroke="#484848" stroke-width="0.7" />
<line x1="464.17" y1="261.80" x2="465.97" y2="261.80" stroke="#484848" stroke-width="0.63" />
<line x1="464.17" y1="334.20" x2="465.97" y2="334.20" stroke="#484848" stroke-width="0.63" />
<line x1="510.10" y1="306.00" x2="510.10" y2="342.00" stroke="#444" stroke-width="0.9" />
<line x1="509.20" y1="306.00" x2="511.00" y2="306.00" stroke="#444" stroke-width="0.81" />
<line x1="509.20" y1="342.00" x2="511.00" y2="342.00" stroke="#444" stroke-width="0.81" />
<polyline fill="none" stroke="#3a3a3a" stroke-width="0.8" points="375.00,233.70 378.75,256.00 420.03,283.88 465.07,309.85 510.10,322.23"/>
<polyline fill="none" stroke="#3a3a3a" stroke-width="0.8" points="375.00,227.01 378.75,245.97 420.03,289.45 465.07,294.36 510.10,322.23"/>
<polyline fill="none" stroke="#3a3a3a" stroke-width="0.8" points="375.00,270.50 378.75,296.25 420.03,300.60 465.07,317.99 510.10,332.60"/>
<polyline fill="none" stroke="#3a3a3a" stroke-width="0.8" points="375.00,280.75 378.75,300.60 420.03,300.60 465.07,322.90 510.10,335.83"/>
<circle cx="375.00" cy="270.50" r="1.8" fill="#fff" stroke="#333" stroke-width="0.8"/>
<circle cx="378.75" cy="296.25" r="1.8" fill="#fff" stroke="#333" stroke-width="0.8"/>
<circle cx="420.03" cy="300.60" r="1.8" fill="#fff" stroke="#333" stroke-width="0.8"/>
<circle cx="465.07" cy="317.99" r="1.8" fill="#fff" stroke="#333" stroke-width="0.8"/>
<circle cx="510.10" cy="332.60" r="1.8" fill="#fff" stroke="#333" stroke-width="0.8"/>
<rect x="373.30" y="279.05" width="3.4" height="3.4" fill="#fff" stroke="#333" stroke-width="0.8"/>
<rect x="377.05" y="298.90" width="3.4" height="3.4" fill="#fff" stroke="#333" stroke-width="0.8"/>
<rect x="418.33" y="298.90" width="3.4" height="3.4" fill="#fff" stroke="#333" stroke-width="0.8"/>
<rect x="463.37" y="321.20" width="3.4" height="3.4" fill="#fff" stroke="#333" stroke-width="0.8"/>
<rect x="508.40" y="334.13" width="3.4" height="3.4" fill="#fff" stroke="#333" stroke-width="0.8"/>
<rect x="373.25" y="225.26" width="3.5" height="3.5" fill="#000" stroke="none" stroke-width="0.7"/>
<rect x="377.00" y="244.22" width="3.5" height="3.5" fill="#000" stroke="none" stroke-width="0.7"/>
<rect x="418.28" y="287.70" width="3.5" height="3.5" fill="#000" stroke="none" stroke-width="0.7"/>
<rect x="463.32" y="292.61" width="3.5" height="3.5" fill="#000" stroke="none" stroke-width="0.7"/>
<rect x="508.35" y="320.48" width="3.5" height="3.5" fill="#000" stroke="none" stroke-width="0.7"/>
<circle cx="375.00" cy="233.70" r="1.85" fill="#000" stroke="none" stroke-width="0.7"/>
<circle cx="378.75" cy="256.00" r="1.85" fill="#000" stroke="none" stroke-width="0.7"/>
<circle cx="420.03" cy="283.88" r="1.85" fill="#000" stroke="none" stroke-width="0.7"/>
<circle cx="465.07" cy="309.85" r="1.85" fill="#000" stroke="none" stroke-width="0.7"/>
<circle cx="510.10" cy="322.23" r="1.85" fill="#000" stroke="none" stroke-width="0.7"/>
<text x="408.8" y="222.0" font-size="10.6" font-style="italic" fill="#000">Adam17<tspan dx="1.5" dy="-3" font-size="7.5">+/+</tspan></text>
<text x="462.80" y="222.00" font-size="10.4" text-anchor="start" font-weight="normal" font-style="normal" fill="#000" >RT</text>
<text x="408.8" y="232.6" font-size="10.6" font-style="italic" fill="#000">Adam17<tspan dx="1.5" dy="-3" font-size="7.5">ΔZn/ΔZn</tspan></text>
<text x="481.90" y="232.60" font-size="10.4" text-anchor="start" font-weight="normal" font-style="normal" fill="#000" >RT</text>
<text x="408.8" y="243.2" font-size="10.6" font-style="italic" fill="#000">Adam17<tspan dx="1.5" dy="-3" font-size="7.5">+/+</tspan></text>
<text x="461.20" y="243.20" font-size="10.4" text-anchor="start" font-weight="normal" font-style="normal" fill="#000" >48h</text>
<text x="408.8" y="253.6" font-size="10.6" font-style="italic" fill="#000">Adam17<tspan dx="1.5" dy="-3" font-size="7.5">ΔZn/ΔZn</tspan></text>
<text x="480.80" y="253.60" font-size="10.4" text-anchor="start" font-weight="normal" font-style="normal" fill="#000" >48h</text>
<circle cx="404.00" cy="218.00" r="1.9" fill="#000" stroke="none" stroke-width="0.7"/>
<rect x="402.30" y="226.60" width="3.4" height="3.4" fill="#000" stroke="none" stroke-width="0.7"/>
<circle cx="404.00" cy="239.00" r="1.5" fill="#fff" stroke="#444" stroke-width="0.7"/>
<rect x="402.50" y="246.90" width="3.0" height="3.0" fill="#fff" stroke="#444" stroke-width="0.7"/>
</svg></body></html>
